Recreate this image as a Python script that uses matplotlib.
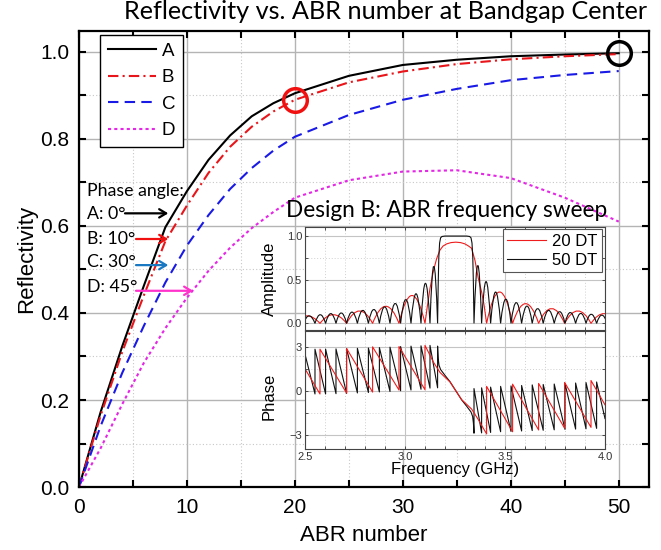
import matplotlib.pyplot as plt
from matplotlib.lines import Line2D
from matplotlib.path import Path
from matplotlib.patches import PathPatch
from matplotlib.ticker import MultipleLocator, FormatStrFormatter

plt.rcParams['font.family'] = ['Liberation Sans', 'DejaVu Sans']

# --- main panel: reflectivity vs number of ABR periods ---
abr_n = [0, 2, 4, 6, 8, 10, 12, 14, 16, 18, 20, 25, 30, 35, 40, 45, 50]
refl_a = [0, 0.172, 0.323, 0.462, 0.597, 0.680, 0.752, 0.808, 0.852, 0.882, 0.905,
          0.945, 0.970, 0.982, 0.990, 0.994, 0.997]
refl_b = [0, 0.164, 0.310, 0.440, 0.565, 0.647, 0.722, 0.782, 0.828, 0.863, 0.890,
          0.930, 0.955, 0.972, 0.983, 0.990, 0.995]
refl_c = [0, 0.140, 0.262, 0.370, 0.470, 0.555, 0.625, 0.685, 0.733, 0.773, 0.805,
          0.855, 0.890, 0.915, 0.935, 0.947, 0.956]
refl_d = [0, 0.089, 0.190, 0.285, 0.365, 0.435, 0.497, 0.550, 0.595, 0.632, 0.665,
          0.705, 0.725, 0.728, 0.710, 0.665, 0.610]
curve_names = ['A', 'B', 'C', 'D']
phase_labels = ['A: 0°', 'B: 10°', 'C: 30°', 'D: 45°']
marked_n = [20, 50]
marked_r = [0.89, 0.997]

# --- inset: design B frequency sweep (20 DT red, 50 DT black) ---
# amplitude side lobes: nulls, lobe peak frequency, lobe peak height
dt20_nulls_l = [2.442, 2.575, 2.708, 2.838, 2.970, 3.100]
dt20_peak_f_l = [2.508, 2.641, 2.773, 2.904, 3.035]
dt20_peak_h_l = [0.087, 0.100, 0.143, 0.196, 0.320]
dt20_band_f = [3.100, 3.112, 3.125, 3.142, 3.158, 3.175, 3.190, 3.208, 3.230, 3.254,
               3.278, 3.300, 3.318, 3.333, 3.350, 3.366, 3.383, 3.396, 3.408]
dt20_band_a = [0, 0.20, 0.40, 0.60, 0.74, 0.84, 0.885, 0.91, 0.925, 0.93,
               0.925, 0.91, 0.885, 0.86, 0.72, 0.52, 0.36, 0.20, 0]
dt20_nulls_r = [3.408, 3.538, 3.668, 3.798, 3.930, 4.062]
dt20_peak_f_r = [3.473, 3.603, 3.733, 3.864, 3.996]
dt20_peak_h_r = [0.360, 0.226, 0.170, 0.143, 0.113]

dt50_nulls_l = [2.492, 2.550, 2.603, 2.655, 2.708, 2.762, 2.817, 2.872, 2.925, 2.978,
                3.030, 3.080, 3.125, 3.163]
dt50_peak_f_l = [2.521, 2.576, 2.629, 2.681, 2.735, 2.789, 2.844, 2.898, 2.951, 3.004,
                 3.055, 3.102, 3.144]
dt50_peak_h_l = [0.087, 0.100, 0.113, 0.120, 0.130, 0.150, 0.160, 0.190, 0.230, 0.275,
                 0.340, 0.460, 0.660]
dt50_band_f = [3.163, 3.166, 3.169, 3.173, 3.178, 3.185, 3.200, 3.254, 3.308, 3.323,
               3.330, 3.335, 3.339, 3.342, 3.345]
dt50_band_a = [0, 0.45, 0.75, 0.92, 0.98, 0.995, 1.0, 1.0, 1.0, 0.995,
               0.98, 0.92, 0.75, 0.45, 0]
dt50_nulls_r = [3.345, 3.383, 3.428, 3.478, 3.530, 3.583, 3.636, 3.691, 3.746, 3.800,
                3.853, 3.905, 3.958, 4.011]
dt50_peak_f_r = [3.364, 3.405, 3.453, 3.504, 3.556, 3.610, 3.663, 3.718, 3.773, 3.826,
                 3.879, 3.931, 3.984]
dt50_peak_h_r = [0.670, 0.480, 0.360, 0.280, 0.240, 0.200, 0.170, 0.150, 0.135, 0.125,
                 0.115, 0.105, 0.095]

# phase (rad), sawtooth jumps at the amplitude nulls
dt20_ph_f = [2.500, 2.575, 2.575, 2.708, 2.708, 2.838, 2.838, 2.970, 2.970, 3.100,
             3.100, 3.142, 3.175, 3.225, 3.254, 3.283, 3.333, 3.366, 3.408, 3.408,
             3.538, 3.538, 3.668, 3.668, 3.798, 3.798, 3.930, 3.930, 4.000]
dt20_ph = [1.50, -0.22, 2.84, -0.16, 2.89, -0.09, 3.00, 0.05, 3.02, 0.07,
           3.10, 1.96, 1.25, 0.60, 0.00, -0.60, -1.25, -1.96, -2.95, 0.30,
           -2.80, 0.45, -2.68, 0.50, -2.56, 0.57, -2.50, 0.70, -0.96]
dt50_ph_f = [2.500, 2.550, 2.550, 2.603, 2.603, 2.655, 2.655, 2.708, 2.708, 2.762,
             2.762, 2.817, 2.817, 2.872, 2.872, 2.925, 2.925, 2.978, 2.978, 3.030,
             3.030, 3.080, 3.080, 3.125, 3.125, 3.163, 3.163, 3.166, 3.170, 3.178,
             3.200, 3.225, 3.254, 3.283, 3.308, 3.330, 3.338, 3.342, 3.345, 3.345,
             3.383, 3.383, 3.428, 3.428, 3.478, 3.478, 3.530, 3.530, 3.583, 3.583,
             3.636, 3.636, 3.691, 3.691, 3.746, 3.746, 3.800, 3.800, 3.853, 3.853,
             3.905, 3.905, 3.958, 3.958, 4.000]
dt50_ph = [2.50, -0.22, 2.84, -0.22, 2.85, -0.20, 2.86, -0.18, 2.88, -0.15,
           2.90, -0.12, 2.92, -0.08, 2.95, -0.05, 2.98, 0.00, 3.02, 0.05,
           3.05, 0.10, 3.07, 0.18, 3.10, 0.20, 3.05, 2.20, 1.75, 1.45,
           1.05, 0.62, 0.00, -0.62, -1.05, -1.45, -1.75, -2.20, -2.90, 0.15,
           -2.88, 0.20, -2.85, 0.25, -2.80, 0.30, -2.78, 0.33, -2.75, 0.36,
           -2.72, 0.40, -2.70, 0.43, -2.67, 0.46, -2.64, 0.50, -2.62, 0.53,
           -2.60, 0.56, -2.57, 0.60, -1.90]


def sweep_path(nulls_l, pf_l, ph_l, band_f, band_a, nulls_r, pf_r, ph_r):
    # side lobes as quadratic arches between nulls, pass band as polyline
    verts = [(nulls_l[0], 0.0)]
    codes = [Path.MOVETO]
    for f0, h, f1 in zip(pf_l, ph_l, nulls_l[1:]):
        verts += [(f0, 2 * h), (f1, 0.0)]
        codes += [Path.CURVE3, Path.CURVE3]
    for f, a in zip(band_f[1:], band_a[1:]):
        verts.append((f, a))
        codes.append(Path.LINETO)
    for f0, h, f1 in zip(pf_r, ph_r, nulls_r[1:]):
        verts += [(f0, 2 * h), (f1, 0.0)]
        codes += [Path.CURVE3, Path.CURVE3]
    return Path(verts, codes)


fig = plt.figure(figsize=(6.61, 5.5), dpi=100)
ax = fig.add_axes([0.1195, 0.1145, 0.8623, 0.8291])

styles = [dict(color='black', ls='-'),
          dict(color='#e8161b', ls=(0, (5, 2, 1, 2))),
          dict(color='#1a1ae6', ls=(0, (5, 3))),
          dict(color='#e626e6', ls=(0, (1.5, 1.5)))]
for name, refl, st in zip(curve_names, [refl_a, refl_b, refl_c, refl_d], styles):
    ax.plot(abr_n, refl, lw=1.5, label=name, **st)

ax.plot(marked_n[0], marked_r[0], 'o', ms=17, mfc='none', mec='#f01010', mew=2.5, zorder=5)
ax.plot(marked_n[1], marked_r[1], 'o', ms=17, mfc='none', mec='black', mew=2.5, zorder=5,
        clip_on=False)

ax.set_xlim(0, 52.8)
ax.set_ylim(0, 1.048)
ax.xaxis.set_major_locator(MultipleLocator(10))
ax.xaxis.set_minor_locator(MultipleLocator(5))
ax.yaxis.set_major_locator(MultipleLocator(0.2))
ax.yaxis.set_minor_locator(MultipleLocator(0.1))
ax.yaxis.set_major_formatter(FormatStrFormatter('%.1f'))
ax.grid(which='major', color='#b4b4b4', lw=1.0)
ax.grid(which='minor', color='#c8c8c8', lw=0.8, ls=(0, (1, 2)))
ax.set_axisbelow(True)
ax.tick_params(which='both', direction='in', top=True, right=True, length=5, width=1.5)
ax.tick_params(axis='x', labelsize=15, pad=8)
ax.tick_params(axis='y', labelsize=15, pad=7)
for sp in ax.spines.values():
    sp.set_linewidth(1.6)
ax.set_xlabel('ABR number', fontsize=16, labelpad=6)
ax.set_ylabel('Reflectivity', fontsize=16, labelpad=2)

leg = ax.legend(loc='upper left', bbox_to_anchor=(0.037, 0.991), borderaxespad=0,
                fontsize=13.5, handlelength=2.6, handletextpad=0.3, fancybox=False,
                edgecolor='black', framealpha=1)
leg.get_frame().set_linewidth(1.0)

ax.text(0.74, 0.6697, 'Phase angle:', family='Lato', fontsize=12.8, va='baseline')
label_y = [0.6154, 0.5586, 0.5064, 0.449]
arrow_y = [0.629, 0.570, 0.510, 0.451]
arrow_x0 = [4.26, 5.28, 5.28, 5.28]
arrow_x1 = [8.27, 8.27, 8.27, 10.58]
arrow_colors = ['black', '#f01010', '#1a78c2', '#ff33cc']
for lab, ly, ay, x0, x1, c in zip(phase_labels, label_y, arrow_y, arrow_x0, arrow_x1,
                                   arrow_colors):
    ax.text(0.74, ly, lab, family='Lato', fontsize=12.8, va='baseline')
    ax.annotate('', xy=(x1, ay), xytext=(x0, ay),
                arrowprops=dict(arrowstyle='->,head_length=0.5,head_width=0.3',
                                color=c, lw=1.6, shrinkA=0, shrinkB=0))

fig.text(0.584, 0.966, 'Reflectivity vs. ABR number at Bandgap Center',
         family='Lato', fontsize=18.2, ha='center', va='baseline')

# --- inset axes ---
ax_amp = fig.add_axes([0.4614, 0.4009, 0.4539, 0.1858])
ax_ph = fig.add_axes([0.4614, 0.1831, 0.4539, 0.2142], sharex=ax_amp)

ax_amp.add_patch(PathPatch(sweep_path(dt20_nulls_l, dt20_peak_f_l, dt20_peak_h_l,
                                      dt20_band_f, dt20_band_a, dt20_nulls_r,
                                      dt20_peak_f_r, dt20_peak_h_r),
                           fill=False, edgecolor='#ee1c1c', lw=0.8))
ax_amp.add_patch(PathPatch(sweep_path(dt50_nulls_l, dt50_peak_f_l, dt50_peak_h_l,
                                      dt50_band_f, dt50_band_a, dt50_nulls_r,
                                      dt50_peak_f_r, dt50_peak_h_r),
                           fill=False, edgecolor='#111111', lw=0.8))
ax_ph.plot(dt50_ph_f, dt50_ph, color='#111111', lw=0.8)
ax_ph.plot(dt20_ph_f, dt20_ph, color='#ee1c1c', lw=0.8)

inset_handles = [Line2D([], [], color='#ee1c1c', lw=0.8),
                 Line2D([], [], color='#111111', lw=0.8)]
ileg = ax_amp.legend(inset_handles, ['20 DT', '50 DT'], loc='upper right',
                     bbox_to_anchor=(0.989, 0.98), borderaxespad=0, fontsize=12,
                     handlelength=2.3, handletextpad=0.4, labelspacing=0.25,
                     borderpad=0.25, fancybox=False, edgecolor='#555555', framealpha=1)
ileg.get_frame().set_linewidth(0.8)

ax_amp.set_xlim(2.5, 4.0)
ax_amp.set_ylim(-0.07, 1.1)
ax_ph.set_ylim(-4, 4.05)
ax_amp.xaxis.set_major_locator(MultipleLocator(0.5))
ax_amp.xaxis.set_minor_locator(MultipleLocator(0.1))
ax_amp.yaxis.set_major_locator(MultipleLocator(0.5))
ax_amp.yaxis.set_minor_locator(MultipleLocator(0.25))
ax_amp.yaxis.set_major_formatter(FormatStrFormatter('%.1f'))
ax_ph.yaxis.set_major_locator(MultipleLocator(3))
ax_ph.yaxis.set_minor_locator(MultipleLocator(1.5))
ax_ph.xaxis.set_major_formatter(FormatStrFormatter('%.1f'))
for a in (ax_amp, ax_ph):
    a.grid(which='major', color='#c4c4c4', lw=0.8)
    a.grid(which='minor', color='#d0d0d0', lw=0.7, ls=(0, (1, 2)))
    a.set_axisbelow(True)
    a.tick_params(which='both', direction='in', top=True, right=True, length=2.5,
                  width=0.6, labelsize=8, pad=2, colors='#333333')
    for sp in a.spines.values():
        sp.set_linewidth(0.8)
        sp.set_color('#444444')
ax_amp.tick_params(labelbottom=False)
ax_amp.set_ylabel('Amplitude', fontsize=12)
ax_ph.set_ylabel('Phase', fontsize=12)
ax_amp.yaxis.set_label_coords(-0.093, 0.5)
ax_ph.yaxis.set_label_coords(-0.093, 0.45)
ax_ph.set_xlabel('Frequency (GHz)', fontsize=12, labelpad=0)

fig.text(0.675, 0.6055, 'Design B: ABR frequency sweep', family='Lato', fontsize=16.3,
         ha='center', va='baseline')

fig.savefig('out.png', dpi=100)
